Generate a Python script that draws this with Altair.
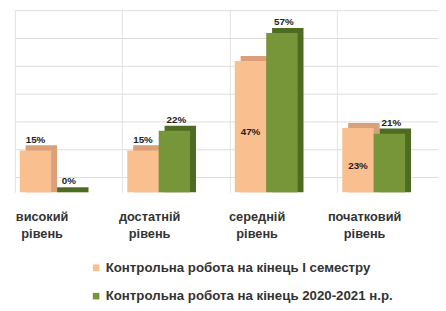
import altair as alt
import pandas as pd

categories = ["високий рівень", "достатній рівень", "середній рівень", "початковий рівень"]
series_names = ["Контрольна робота на кінець I семестру",
                "Контрольна робота на кінець 2020-2021 н.р."]
sem1 = [15, 15, 47, 23]
year_end = [0, 22, 57, 21]
grid_values = [0, 10, 20, 30, 40, 50, 60]

front_colors = ["#F9BF8F", "#77963A"]
back_colors = ["#D9A07A", "#4E6B22"]

rows = []
for c, a, b in zip(categories, sem1, year_end):
    rows.append({"cat": c, "series": series_names[0], "value": a})
    rows.append({"cat": c, "series": series_names[1], "value": b})
df = pd.DataFrame(rows)
grid_df = pd.DataFrame({"g": grid_values})

x_axis = alt.Axis(title=None, labelExpr="split(datum.label, ' ')",
                  bandPosition=0.065, labelOffset=-20, grid=True,
                  gridColor="#e2e2e2", ticks=False, domain=False,
                  labelPadding=19, labelFontSize=13, labelFontWeight="bold",
                  labelColor="#333333", labelLineHeight=17, labelAngle=0,
                  labelFont="Liberation Sans", labelOverlap=False)
x_enc = alt.X("cat:N", sort=categories,
              scale=alt.Scale(paddingInner=0, paddingOuter=0), axis=x_axis)
y_scale = alt.Scale(domain=[0, 65])
y_enc = alt.Y("value:Q", scale=y_scale, axis=None)

grid = alt.Chart(grid_df).mark_rule(color="#dcdcdc", strokeWidth=1).encode(
    y=alt.Y("g:Q", scale=alt.Scale(domain=[-5.3, 60]), axis=None),
    x=alt.value(7), x2=alt.value("width"))

base = alt.Chart(df)

# depth box behind each bar (3D look): a little taller, shifted right
back = base.mark_bar().transform_calculate(
    depth_top="datum.value + 1.8"
).encode(
    x=x_enc,
    xOffset=alt.XOffset("series:N", sort=series_names,
                        scale=alt.Scale(domain=series_names, range=[18, 82],
                                        paddingInner=0, paddingOuter=0)),
    y=alt.Y("depth_top:Q", scale=y_scale, axis=None),
    color=alt.Color("series:N", sort=series_names,
                    scale=alt.Scale(domain=series_names, range=back_colors), legend=None))

front = base.mark_bar().encode(
    x=x_enc,
    xOffset=alt.XOffset("series:N", sort=series_names,
                        scale=alt.Scale(domain=series_names, range=[12, 76],
                                        paddingInner=0, paddingOuter=0)),
    y=y_enc,
    color=alt.Color("series:N", sort=series_names,
                    scale=alt.Scale(domain=series_names, range=front_colors),
                    legend=alt.Legend(title=None, orient="none", legendX=83, legendY=255,
                                      direction="vertical", symbolType="square",
                                      symbolSize=45, labelFontSize=13.5,
                                      labelFontWeight="bold", labelColor="#333333",
                                      labelFont="Liberation Sans", labelLimit=400,
                                      rowPadding=14, symbolStrokeWidth=0,
                                      labelOffset=3)))

label_x_off = alt.XOffset("series:N", sort=series_names,
                          scale=alt.Scale(type="point", domain=series_names,
                                          range=[28, 62], padding=0))
txt_style = dict(fontSize=10, fontWeight="bold", color="#222222", font="Liberation Sans")

labels_above = base.mark_text(baseline="alphabetic", dy=-8, **txt_style).transform_filter(
    "datum.series == '%s' || datum.value < 20" % series_names[1]
).transform_calculate(label="datum.value + '%'").encode(
    x=x_enc, xOffset=label_x_off, y=y_enc,
    text=alt.Text("label:N"))

labels_inside = base.mark_text(baseline="middle", **txt_style).transform_filter(
    "datum.series == '%s' && datum.value >= 20" % series_names[0]
).transform_calculate(mid="datum.value / 2 - 2", label="datum.value + '%'").encode(
    x=x_enc, xOffset=label_x_off,
    y=alt.Y("mid:Q", scale=y_scale, axis=None),
    text=alt.Text("label:N"))

chart = alt.layer(grid, back, front, labels_above, labels_inside).resolve_scale(
    y="independent", xOffset="independent", color="independent"
).properties(
    width=438, height=185,
    autosize=alt.AutoSizeParams(type="none"),
    padding={"left": 0, "top": 0, "right": 0, "bottom": 110}
).configure_view(stroke=None)

chart.save("out.html", embed_options={"renderer": "svg", "actions": False})
